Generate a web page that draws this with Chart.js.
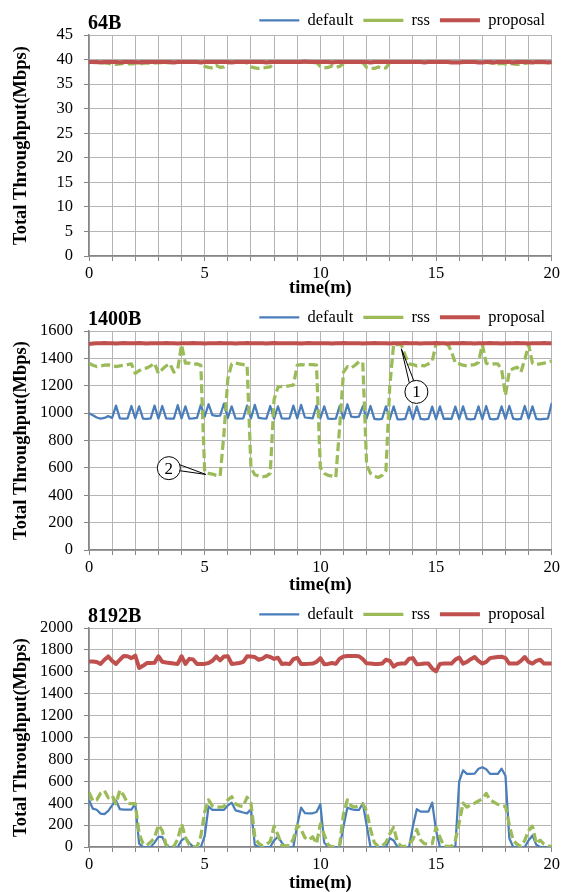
<!DOCTYPE html>
<html lang="en">
<head>
<meta charset="UTF-8">
<title>Total Throughput</title>
<script src="https://cdn.jsdelivr.net/npm/chart.js"></script>
<style>
  body { margin: 0; background: #fff; }
  canvas { display: block; }
</style>
</head>
<body>
<canvas id="c64" width="563" height="297"></canvas>
<canvas id="c1400" width="563" height="297"></canvas>
<canvas id="c8192" width="563" height="298"></canvas>
<script>
// one sample every 10 s over 20 minutes
var times = [];
for (var i = 0; i <= 120; i++) times.push(i / 6);
var xLabels = [0, 5, 10, 15, 20];

// ---- 64B ----
var def64 = [
  39.6,39.6,39.6,39.6,39.6,39.6,  39.6,39.6,39.6,39.6,39.6,39.6,
  39.6,39.6,39.7,39.7,39.6,39.6,  39.6,39.6,39.6,39.6,39.6,39.6,
  39.6,39.6,39.6,39.6,39.6,39.6,  39.6,39.6,39.6,39.6,39.6,39.6,
  39.6,39.6,39.6,39.6,39.6,39.6,  39.6,39.6,39.6,39.6,39.6,39.6,
  39.6,39.6,39.6,39.6,39.6,39.6,  39.6,39.7,39.7,39.6,39.6,39.6,
  39.6,39.6,39.6,39.6,39.6,39.6,  39.6,39.6,39.6,39.6,39.6,39.6,
  39.6,39.6,39.6,39.6,39.6,39.6,  39.6,39.6,39.6,39.6,39.6,39.6,
  39.6,39.6,39.6,39.6,39.6,39.6,  39.7,39.7,39.6,39.6,39.6,39.6,
  39.6,39.6,39.6,39.6,39.6,39.6,  39.6,39.6,39.6,39.6,39.6,39.6,
  39.6,39.6,39.6,39.6,39.6,39.6,  39.6,39.6,39.6,39.6,39.6,39.6,
  39.6
];
var rss64 = [
  39.5,39.4,39.4,39.3,39.3,39.2,  39.1,39.0,39.1,39.2,39.1,39.1,
  39.2,39.1,39.2,39.3,39.2,39.3,  39.3,39.4,39.4,39.3,39.4,39.5,
  39.5,39.5,39.4,39.5,39.5,39.4,  38.6,38.4,38.3,38.8,38.4,38.5,
  39.3,39.5,39.5,39.4,39.5,39.3,  38.5,38.3,38.2,38.3,38.4,38.5,
  39.4,39.5,39.5,39.4,39.5,39.5,  39.5,39.4,39.5,39.5,39.4,39.4,
  38.6,38.3,38.4,38.7,38.4,38.6,  39.3,39.5,39.4,39.5,39.4,39.4,
  38.4,38.2,38.2,38.5,38.2,38.3,  39.4,39.5,39.5,39.6,39.5,39.5,
  39.5,39.5,39.6,39.5,39.5,39.5,  39.5,39.6,39.5,39.5,39.5,39.5,
  39.5,39.5,39.5,39.4,39.5,39.5,  39.4,39.5,39.3,39.2,39.1,39.2,
  39.1,39.2,39.1,39.0,39.1,39.2,  39.3,39.4,39.3,39.4,39.4,39.4,
  39.4
];
var prop64 = [
  39.5,39.5,39.5,39.4,39.5,39.5,  39.5,39.5,39.4,39.5,39.5,39.5,
  39.5,39.4,39.5,39.5,39.5,39.5,  39.5,39.5,39.5,39.5,39.4,39.5,
  39.5,39.5,39.5,39.5,39.5,39.4,  39.5,39.5,39.5,39.5,39.5,39.5,
  39.5,39.4,39.5,39.5,39.5,39.5,  39.5,39.5,39.5,39.5,39.4,39.5,
  39.5,39.5,39.5,39.5,39.5,39.5,  39.5,39.5,39.6,39.5,39.5,39.5,
  39.5,39.5,39.5,39.4,39.5,39.5,  39.5,39.5,39.5,39.5,39.5,39.5,
  39.5,39.4,39.5,39.5,39.5,39.5,  39.5,39.5,39.5,39.5,39.5,39.5,
  39.5,39.5,39.5,39.4,39.5,39.5,  39.5,39.5,39.5,39.5,39.4,39.4,
  39.4,39.5,39.5,39.5,39.5,39.4,  39.4,39.5,39.5,39.4,39.5,39.5,
  39.5,39.5,39.4,39.5,39.5,39.5,  39.5,39.4,39.5,39.5,39.5,39.4,
  39.5
];

// ---- 1400B ----
var def1400 = [
  1000,985,968,960,965,978,   965,1055,962,960,962,1052,
  962,1050,960,958,962,1055,  960,1052,962,960,960,1058,
  962,1050,960,962,965,1060,  975,1065,985,980,982,1070,
  965,1050,962,960,962,1055,  962,1060,965,962,960,1052,
  960,1050,962,960,962,1055,  962,1060,968,965,962,1055,
  962,1050,960,958,960,1052,  960,1065,975,970,975,1050,
  962,1052,958,955,958,1050,  955,1050,955,955,958,1048,
  955,1050,958,955,958,1048,  955,1050,958,960,958,1048,
  955,1050,958,955,958,1050,  955,1052,958,955,960,1050,
  958,1052,960,955,958,1052,  960,1050,958,955,958,960,
  1075
];
var rss1400 = [
  1365,1350,1340,1345,1350,1352,  1350,1340,1345,1350,1355,1360,
  1290,1310,1325,1330,1345,1365,  1290,1320,1345,1360,1300,1320,
  1500,1365,1365,1355,1360,1350,  570,560,555,545,540,850,
  1250,1360,1365,1360,1355,1350,  600,550,540,535,540,560,
  1100,1190,1195,1195,1200,1205,  1350,1355,1352,1355,1355,1350,
  600,560,545,540,530,900,        1300,1340,1330,1350,1375,1370,
  620,560,540,530,545,580,        1200,1505,1500,1500,1420,1360,
  1355,1345,1350,1345,1360,1380,  1505,1508,1505,1505,1450,1365,
  1360,1350,1345,1350,1355,1370,  1500,1365,1355,1360,1360,1320,
  1130,1310,1325,1335,1300,1390,  1500,1365,1355,1360,1365,1375,
  1380
];
var prop1400 = [
  1505,1508,1510,1510,1512,1510,  1510,1508,1510,1512,1510,1510,
  1510,1512,1510,1508,1510,1510,  1510,1510,1512,1510,1510,1508,
  1510,1510,1510,1512,1510,1510,  1508,1510,1510,1510,1512,1510,
  1510,1510,1508,1510,1510,1512,  1510,1510,1510,1510,1508,1510,
  1512,1510,1510,1510,1510,1510,  1510,1508,1510,1512,1510,1510,
  1510,1510,1510,1508,1510,1510,  1512,1510,1510,1510,1510,1508,
  1510,1510,1512,1510,1510,1510,  1508,1510,1510,1510,1512,1510,
  1510,1510,1508,1510,1510,1510,  1512,1510,1510,1508,1510,1510,
  1510,1512,1510,1510,1508,1510,  1510,1510,1512,1510,1510,1508,
  1510,1510,1510,1512,1510,1510,  1508,1510,1510,1510,1512,1510,
  1510
];

// ---- 8192B ----
var def8192 = [
  430,350,340,305,300,330,   380,425,345,342,342,342,
  395,30,0,0,0,40,           92,92,10,0,0,0,
  60,85,40,0,0,0,            100,370,340,338,338,340,
  380,405,335,325,315,307,   345,20,0,0,0,0,
  60,94,40,0,0,0,            200,360,310,308,308,320,
  390,40,0,0,0,0,            190,360,345,338,338,400,
  200,0,0,0,0,0,             80,60,0,0,0,0,
  190,345,323,323,323,405,   150,0,0,0,0,0,
  600,700,668,667,670,715,   728,710,668,667,667,715,
  650,80,0,0,0,0,            60,105,20,0,0,0,
  0
];
var rss8192 = [
  500,420,430,490,515,450,   470,395,520,470,400,395,
  395,120,30,15,45,85,       200,150,20,0,5,70,
  210,90,20,5,0,100,         320,430,375,364,364,370,
  430,460,395,375,370,455,   400,90,33,10,25,50,
  190,110,15,10,12,75,       200,160,85,63,93,30,
  210,110,20,0,5,20,         304,430,375,365,378,392,
  330,160,40,5,10,40,        120,180,40,8,5,30,
  70,160,63,30,27,30,        180,90,10,5,5,60,
  220,400,364,385,400,420,   440,490,430,410,390,375,
  373,200,60,25,5,60,        150,190,30,63,25,8,
  5
];
var prop8192 = [
  1694,1695,1690,1672,1710,1740,  1700,1672,1710,1745,1742,1725,
  1748,1635,1655,1680,1680,1682,  1742,1692,1685,1680,1675,1672,
  1742,1672,1718,1712,1672,1672,  1672,1680,1700,1740,1705,1740,
  1742,1672,1675,1680,1690,1742,  1740,1735,1710,1720,1745,1735,
  1718,1728,1672,1675,1670,1715,  1728,1672,1672,1673,1675,1690,
  1725,1670,1672,1680,1672,1720,  1740,1745,1745,1745,1742,1715,
  1678,1675,1672,1672,1675,1710,  1700,1648,1672,1675,1675,1720,
  1725,1670,1672,1675,1675,1630,  1605,1672,1675,1675,1675,1712,
  1730,1675,1690,1715,1735,1700,  1675,1690,1725,1730,1735,1738,
  1725,1675,1675,1675,1700,1735,  1690,1675,1700,1710,1675,1675,
  1675
];

// circled call-outs on the 1400B panel (value coordinates)
var notes1400 = [
  { text: '1', at: [14.15, 1155], to: [13.5, 1470], angles: [-128, -103] },
  { text: '2', at: [3.45, 598], to: [5.05, 552], angles: [-17, 13] }
];

Chart.defaults.font.family = "'Liberation Serif', 'Times New Roman', serif";
Chart.defaults.color = '#000';

var serif = "'Liberation Serif', 'Times New Roman', serif";
var axisColor = '#868686';
var gridColor = '#b4b4b4';

var panelTitle = {
  id: 'panelTitle',
  afterDraw: function (chart, args, opts) {
    var ctx = chart.ctx, a = chart.chartArea;
    ctx.save();
    ctx.font = 'bold 20px ' + serif;
    ctx.fillStyle = '#000';
    ctx.textBaseline = 'alphabetic';
    ctx.fillText(opts.text, a.left - 1, a.top - 6);
    ctx.restore();
  }
};

var callouts = {
  id: 'callouts',
  afterDatasetsDraw: function (chart, args, opts) {
    if (!opts.notes) return;
    var ctx = chart.ctx, xs = chart.scales.x, ys = chart.scales.y;
    var r = 11.5;
    ctx.save();
    opts.notes.forEach(function (n) {
      var cx = xs.getPixelForValue(n.at[0]), cy = ys.getPixelForValue(n.at[1]);
      var tx = xs.getPixelForValue(n.to[0]), ty = ys.getPixelForValue(n.to[1]);
      ctx.strokeStyle = '#000';
      ctx.lineWidth = 1;
      n.angles.forEach(function (deg) {
        var rad = deg * Math.PI / 180;
        ctx.beginPath();
        ctx.moveTo(cx + Math.cos(rad) * r, cy + Math.sin(rad) * r);
        ctx.lineTo(tx, ty);
        ctx.stroke();
      });
      ctx.beginPath();
      ctx.arc(cx, cy, r, 0, Math.PI * 2);
      ctx.fillStyle = '#fff';
      ctx.fill();
      ctx.stroke();
      ctx.fillStyle = '#000';
      ctx.font = '17px ' + serif;
      ctx.textAlign = 'center';
      ctx.textBaseline = 'middle';
      ctx.fillText(n.text, cx, cy + 1);
    });
    ctx.restore();
  }
};

// top/bottom: where the plot area starts and ends inside each canvas
function makeChart(id, title, yMax, yStep, def, rss, prop, notes, top, bottom) {
  var canvas = document.getElementById(id);
  return new Chart(canvas, {
    type: 'line',
    data: {
      labels: times,
      datasets: [
        { label: 'default', data: def, borderColor: '#4A7EBB', backgroundColor: '#4A7EBB', borderWidth: 2.25, order: 3 },
        { label: 'rss', data: rss, borderColor: '#9BBB59', backgroundColor: '#9BBB59', borderWidth: 3.25, borderDash: [9, 4], order: 2 },
        { label: 'proposal', data: prop, borderColor: '#C0504D', backgroundColor: '#C0504D', borderWidth: 4, order: 1 }
      ]
    },
    options: {
      responsive: false,
      animation: false,
      devicePixelRatio: 1,
      elements: {
        point: { radius: 0 },
        line: { tension: 0, borderJoinStyle: 'round' }
      },
      layout: { padding: { top: 2, right: 8, left: 0, bottom: 0 } },
      plugins: {
        legend: {
          align: 'end',
          maxHeight: top - 2,
          labels: {
            usePointStyle: true,
            pointStyle: 'line',
            pointStyleWidth: 40,
            padding: 10,
            font: { size: 16.5 },
            sort: function (a, b) { return a.datasetIndex - b.datasetIndex; }
          }
        },
        tooltip: { enabled: false },
        panelTitle: { text: title },
        callouts: { notes: notes }
      },
      scales: {
        x: {
          type: 'linear',
          min: 0,
          max: 20,
          afterFit: function (s) { s.height = canvas.height - bottom; },
          ticks: {
            stepSize: 1,
            autoSkip: false,
            maxRotation: 0,
            padding: 3,
            font: { size: 16.5 },
            callback: function (v) { return xLabels.indexOf(v) >= 0 ? String(v) : ''; }
          },
          grid: { color: gridColor, tickColor: axisColor, tickLength: 5 },
          border: { color: axisColor, width: 1.5 },
          title: {
            display: true,
            text: 'time(m)',
            font: { size: 18.5, weight: 'bold', lineHeight: 1 },
            padding: { top: 0, bottom: 0 }
          }
        },
        y: {
          min: 0,
          max: yMax,
          afterFit: function (s) { s.width = 89; },
          ticks: {
            stepSize: yStep,
            autoSkip: false,
            padding: 11,
            font: { size: 16.5 },
            callback: function (v) { return String(v); }
          },
          grid: { color: gridColor, tickColor: axisColor, tickLength: 5 },
          border: { color: axisColor, width: 1.5 },
          title: {
            display: true,
            text: 'Total Throughput(Mbps)',
            font: { size: 18.5, weight: 'bold', lineHeight: 1 },
            padding: { top: 12, bottom: 0 }
          }
        }
      }
    },
    plugins: [panelTitle, callouts]
  });
}

makeChart('c64', '64B', 45, 5, def64, rss64, prop64, null, 35, 256);
makeChart('c1400', '1400B', 1600, 200, def1400, rss1400, prop1400, notes1400, 34, 253);
makeChart('c8192', '8192B', 2000, 200, def8192, rss8192, prop8192, null, 34, 253);
</script>
</body>
</html>
